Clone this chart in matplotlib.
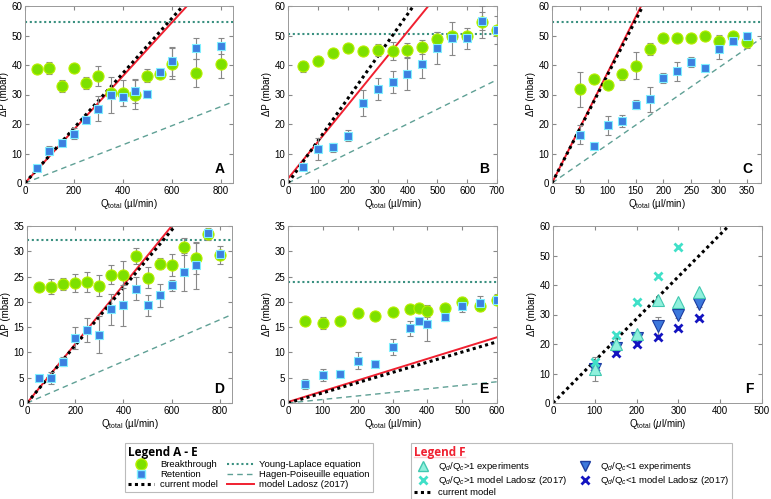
import numpy as np
import matplotlib.pyplot as plt
from matplotlib.lines import Line2D

plt.rcParams['font.family'] = ['Liberation Sans', 'DejaVu Sans']
plt.rcParams['mathtext.fontset'] = 'custom'
plt.rcParams['mathtext.rm'] = 'Liberation Sans'
plt.rcParams['mathtext.it'] = 'Liberation Sans:italic'

# ---- panel A ----
qA = [50, 100, 150, 200, 250, 300, 350, 400, 450, 500, 550, 600, 700, 800]
btA = [38.5, 39.0, 33.0, 39.0, 34.0, 36.3, 30.5, 30.5, 30.0, 36.3, 37.0, 40.5, 37.3, 40.3]
btA_err = [0, 2.0, 2.0, 0, 2.0, 3.3, 0, 4.5, 5.0, 2.2, 0, 5.3, 4.8, 4.8]
rtA = [5.2, 11.0, 13.7, 16.7, 21.2, 25.2, 29.8, 29.0, 31.2, 30.3, 37.5, 41.2, 45.6, 46.4]
rtA_err = [0, 1.5, 0, 1.8, 0, 4.3, 6.0, 3.0, 4.2, 0, 1.3, 4.8, 3.5, 2.8]
ylA, hpA = 54.5, [0, 27.5]
ladA, curA = [0, 60], [0, 60]
xladA, xcurA = [0, 662], [0, 645]

# ---- panel B ----
qB = [50, 100, 150, 200, 250, 300, 350, 400, 450, 500, 550, 600, 650, 700]
btB = [39.5, 41.5, 44.2, 45.6, 44.8, 45.1, 44.7, 45.0, 46.1, 48.9, 49.8, 50.0, 54.5, 51.8]
btB_err = [2.0, 1.5, 0, 0, 0, 2.0, 3.0, 2.5, 2.5, 2.3, 0, 0, 5.5, 4.8]
rtB = [5.5, 11.4, 12.1, 16.1, 27.1, 31.8, 34.2, 37.1, 40.3, 45.8, 49.0, 49.0, 55.0, 51.8]
rtB_err = [0, 3.7, 1.5, 1.7, 4.5, 3.8, 3.8, 5.5, 4.7, 5.3, 5.5, 3.7, 3.0, 0]
ylB, hpB = 50.5, [0, 35]
ladB, curB = [1.5, 60], [0, 60]
xladB, xcurB = [0, 470], [0, 420]

# ---- panel C ----
qC = [50, 75, 100, 125, 150, 175, 200, 225, 250, 275, 300, 325, 350]
btC = [31.7, 35.1, 33.2, 36.8, 39.8, 45.5, 49.1, 49.0, 49.3, 50.0, 48.3, 49.8, 47.8]
btC_err = [6.0, 0, 0, 2.0, 4.7, 2.0, 0, 0, 0, 0, 2.0, 0, 2.0]
rtC = [16.4, 12.5, 19.5, 21.0, 26.5, 28.4, 35.6, 37.8, 41.0, 39.0, 45.4, 48.3, 49.9]
rtC_err = [3.3, 0, 3.2, 2.0, 1.5, 4.3, 1.7, 3.3, 1.6, 0, 3.2, 1.3, 0]
ylC, hpC = 54.5, [0, 49]
ladC, curC = [0, 60], [0, 60]
xladC, xcurC = [0, 160], [0, 163]

# ---- panel D ----
qD = [50, 100, 150, 200, 250, 300, 350, 400, 450, 500, 550, 600, 650, 700, 750, 800]
btD = [23.0, 23.0, 23.6, 23.8, 23.9, 23.2, 25.4, 25.4, 29.0, 24.8, 27.5, 27.3, 30.9, 28.6, 33.5, 29.2]
btD_err = [0, 1.5, 1.2, 1.8, 2.0, 2.1, 1.9, 2.7, 1.6, 2.0, 1.1, 2.1, 1.7, 3.1, 1.2, 1.8]
rtD = [4.9, 5.0, 8.2, 12.9, 14.4, 13.5, 18.5, 19.3, 22.6, 19.3, 21.3, 23.3, 25.9, 27.2, 33.7, 29.5]
rtD_err = [0, 1.2, 0.9, 2.2, 2.4, 3.7, 3.1, 4.1, 2.3, 2.0, 2.3, 1.1, 3.7, 4.6, 0, 0]
ylD, hpD = 32.3, [0, 17.5]
ladD, curD = [0, 35], [0, 35]
xladD, xcurD = [0, 600], [0, 614]

# ---- panel E ----
qE = [50, 100, 150, 200, 250, 300, 350, 375, 400, 450, 500, 550, 600]
btE = [16.3, 15.9, 16.3, 17.8, 17.2, 18.0, 18.6, 18.8, 18.2, 18.7, 19.9, 19.2, 20.4]
btE_err = [0, 1.2, 0, 0, 0, 0, 0, 0, 1.1, 0, 1.1, 1.0, 1.1]
rtE = [3.8, 5.6, 5.7, 8.4, 7.7, 11.0, 14.8, 16.3, 15.7, 17.1, 19.2, 19.8, 20.4]
rtE_err = [1.0, 1.2, 0, 1.7, 0, 1.6, 1.5, 0, 3.5, 0.9, 1.2, 1.3, 0]
ylE, hpE = 24.0, [0, 4.2]
ladE, curE = [0.2, 13.0], [0, 12.1]
xladE, xcurE = [0, 600], [0, 600]

# ---- panel F ----
qF = [100, 150, 200, 250, 300, 350]
gt_exp = [11.5, 20.0, 23.5, 35.0, 34.3, 37.6]
gt_mod = [14.0, 23.0, 34.2, 43.0, 52.8]
lt_exp = [11.5, 18.5, 22.0, 26.0, 29.8, 33.5]
lt_exp_err = [4.0, 1.0, 0, 3.0, 1.0, 0.8]
lt_mod = [12.3, 16.8, 20.0, 22.5, 25.5, 28.7]
curF, xcurF = [0, 60], [0, 420]

green, green_edge = '#7de000', '#b8f000'
blue, blue_edge = '#3c80e0', '#80f0ff'
yl_col, hp_col = '#3a9080', '#5fa095'
red = '#f02030'
cur_ls = (0, (1, 1.1))

fig = plt.figure(figsize=(7.71, 4.99), dpi=100)

W, H = 771, 499
def ax_at(x0, x1, ytop, ybot):
    return fig.add_axes([x0 / W, 1 - ybot / H, (x1 - x0) / W, (ybot - ytop) / H])

def style(ax, xmax, ymax, xt, yt, letter, mu=False):
    ax.set_xlim(0, xmax)
    ax.set_ylim(0, ymax)
    ax.set_xticks(xt)
    ax.set_yticks(yt)
    ax.tick_params(direction='in', top=True, right=True, labelsize=7, length=3,
                   color='#888888', pad=2)
    for s in ax.spines.values():
        s.set_color('#999999')
        s.set_linewidth(0.7)
    ax.set_ylabel('ΔP (mbar)', fontsize=7, labelpad=2)
    if mu:
        ax.set_xlabel(r'Q$_{\mathrm{total}}$ ($\mu$l/min)', fontsize=7, labelpad=1)
    else:
        ax.set_xlabel(r'Q$_{\mathrm{total}}$ (µl/min)', fontsize=7, labelpad=1)
    ax.text(0.96, 0.04, letter, transform=ax.transAxes, ha='right', va='bottom',
            fontsize=10, fontweight='bold')

def panel(ax, q, bt, bte, rt, rte, yl, hp, xlad, lad, xcur, cur, xmax):
    ax.axhline(yl, color=yl_col, lw=1.5, ls=(0, (1, 1.3)), zorder=1)
    ax.plot([0, xmax], hp, color=hp_col, lw=1, ls=(0, (4, 3)), zorder=1)
    ax.plot(xlad, lad, color=red, lw=1.4, zorder=2)
    ax.plot(xcur, cur, color='black', lw=2.2, ls=cur_ls, zorder=2)
    ax.errorbar(q, bt, yerr=bte, fmt='none', ecolor='#888888', elinewidth=0.8,
                capsize=2, capthick=0.8, zorder=3)
    ax.errorbar(q, rt, yerr=rte, fmt='none', ecolor='#888888', elinewidth=0.8,
                capsize=2, capthick=0.8, zorder=3)
    ax.plot(q, bt, 'o', ms=8, mfc=green, mec=green_edge, mew=0.8, zorder=4)
    ax.plot(q, rt, 's', ms=6, mfc=blue, mec=blue_edge, mew=0.8, zorder=5)

axA = ax_at(25, 233, 6, 183)
panel(axA, qA, btA, btA_err, rtA, rtA_err, ylA, hpA, xladA, ladA, xcurA, curA, 850)
style(axA, 850, 60, [0, 200, 400, 600, 800], range(0, 61, 10), 'A')

axB = ax_at(288, 497, 6, 183)
panel(axB, qB, btB, btB_err, rtB, rtB_err, ylB, hpB, xladB, ladB, xcurB, curB, 700)
style(axB, 700, 60, range(0, 701, 100), range(0, 61, 10), 'B')

axC = ax_at(552, 761, 6, 183)
panel(axC, qC, btC, btC_err, rtC, rtC_err, ylC, hpC, xladC, ladC, xcurC, curC, 375)
style(axC, 375, 60, range(0, 351, 50), range(0, 61, 10), 'C')

axD = ax_at(27, 232, 226, 403)
panel(axD, qD, btD, btD_err, rtD, rtD_err, ylD, hpD, xladD, ladD, xcurD, curD, 850)
style(axD, 850, 35, [0, 200, 400, 600, 800], range(0, 36, 5), 'D')

axE = ax_at(288, 497, 226, 403)
panel(axE, qE, btE, btE_err, rtE, rtE_err, ylE, hpE, xladE, ladE, xcurE, curE, 600)
style(axE, 600, 35, range(0, 601, 100), range(0, 36, 5), 'E')

axF = ax_at(553, 762, 226, 403)
axF.plot(xcurF, curF, color='black', lw=2.2, ls=cur_ls, zorder=2)
axF.errorbar(qF, lt_exp, yerr=lt_exp_err, fmt='none', ecolor='#888888',
             elinewidth=0.8, capsize=2, capthick=0.8, zorder=3)
axF.plot(qF, lt_exp, 'v', ms=8, mfc='#3c78dc', mec='#1c3ca0', mew=0.8, zorder=4)
axF.plot(qF, lt_mod, 'x', ms=6, mec='#1414c0', mew=2, zorder=4)
axF.plot(qF, gt_exp, '^', ms=8, mfc='#90f0dc', mec='#40c8b0', mew=0.8, zorder=5)
axF.plot(qF[:len(gt_mod)], gt_mod, 'x', ms=6, mec='#40e0c8', mew=2, zorder=5)
style(axF, 500, 60, range(0, 501, 100), range(0, 61, 10), 'F', mu=True)

# ---- legends ----
leg_kw = dict(loc='upper left', ncol=2, fontsize=6.8, alignment='left',
              frameon=True, fancybox=False, edgecolor='#aaaaaa',
              handleheight=0.6, labelspacing=0.1,
              borderpad=0.3, handletextpad=0.6, borderaxespad=0)

hA = [Line2D([], [], ls='none', marker='o', ms=8, mfc=green, mec=green_edge),
      Line2D([], [], ls='none', marker='s', ms=5.5, mfc=blue, mec=blue_edge),
      Line2D([], [], color='black', lw=2.2, ls=cur_ls),
      Line2D([], [], color=yl_col, lw=1.5, ls=(0, (1, 1.3))),
      Line2D([], [], color=hp_col, lw=1, ls=(0, (4, 3))),
      Line2D([], [], color=red, lw=1.4)]
lA = ['Breakthrough', 'Retention', 'current model',
      'Young-Laplace equation', 'Hagen-Poiseuille equation', 'model Ladosz (2017)']
legA = fig.legend(hA, lA, bbox_to_anchor=(125 / W, 1 - 443 / H),
                  title='Legend A - E', handlelength=2.8, columnspacing=1.0, **leg_kw)
tA = legA.get_title()
tA.set_fontweight('bold')
tA.set_fontsize(8.5)
tA.set_family(['Open Sans', 'DejaVu Sans'])
legA.get_frame().set_linewidth(0.8)

hF = [Line2D([], [], ls='none', marker='^', ms=7.5, mfc='#90f0dc', mec='#40c8b0'),
      Line2D([], [], ls='none', marker='x', ms=5.5, mec='#40e0c8', mew=2),
      Line2D([], [], color='black', lw=2.2, ls=cur_ls),
      Line2D([], [], ls='none', marker='v', ms=7.5, mfc='#3c78dc', mec='#1c3ca0'),
      Line2D([], [], ls='none', marker='x', ms=5.5, mec='#1414c0', mew=2)]
lF = [r'Q$_d$/Q$_c$>1 experiments', r'Q$_d$/Q$_c$>1 model Ladosz (2017)', 'current model',
      r'Q$_d$/Q$_c$<1 experiments', r'Q$_d$/Q$_c$<1 model Ladosz (2017)']
legF = fig.legend(hF, lF, bbox_to_anchor=(411 / W, 1 - 443 / H),
                  title='Legend F', handlelength=2.0, columnspacing=0.8, **leg_kw)
tF = legF.get_title()
tF.set_fontweight('bold')
tF.set_fontsize(8.5)
tF.set_color(red)
tF.set_family(['Open Sans', 'DejaVu Sans'])
legF.get_frame().set_linewidth(0.8)

fig.canvas.draw()
bb = tF.get_window_extent().transformed(fig.transFigure.inverted())
fig.add_artist(Line2D([bb.x0, bb.x1], [bb.y0 + 0.003, bb.y0 + 0.003],
                      transform=fig.transFigure, color=red, lw=1))

fig.savefig('out.png', dpi=100)
plt.close(fig)
